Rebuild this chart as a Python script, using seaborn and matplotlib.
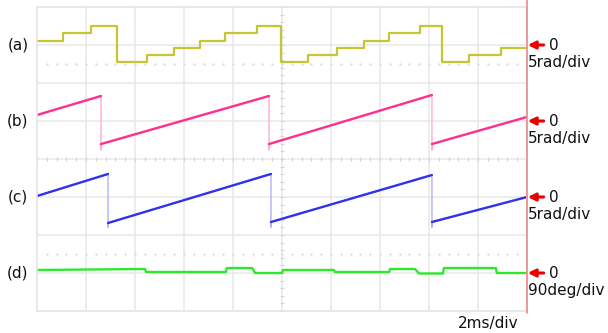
import numpy as np
import pandas as pd
import seaborn as sns
import matplotlib
matplotlib.use("Agg")
import matplotlib.pyplot as plt

# time axis: 2 ms/div, 10 divisions
# (a) staircase, rad (5 rad/div)
a_edges = [0, 1.06, 2.20, 3.27, 4.49, 5.59, 6.65, 7.67, 8.98, 9.96,
           11.06, 12.24, 13.35, 14.37, 15.63, 16.53, 17.63, 18.94, 20.0]
a_rad = [0.53, 1.58, 2.50, -2.24, -1.32, -0.39, 0.53, 1.58, 2.50,
         -2.24, -1.32, -0.39, 0.53, 1.58, 2.50, -2.24, -1.32, -0.39]

# (b) sawtooth, rad (5 rad/div)
b_t = [0, 2.61, 2.61, 9.47, 9.47, 16.12, 16.12, 20.0]
b_rad = [0.79, 3.29, -3.03, 3.29, -3.03, 3.42, -3.03, 0.53]
b_spike = -3.80

# (c) sawtooth, rad (5 rad/div)
c_t = [0, 2.90, 2.90, 9.55, 9.55, 16.12, 16.12, 20.0]
c_rad = [0.13, 3.03, -3.42, 3.03, -3.29, 2.89, -3.29, 0.0]
c_spike = -3.95

# (d) phase difference, deg (90 deg/div)
d_t = [0, 4.41, 4.45, 7.71, 7.75, 8.78, 8.90, 10.0, 10.04, 12.12, 12.16,
       14.37, 14.41, 15.43, 15.59, 16.57, 16.61, 18.73, 18.77, 20.0]
d_deg = [7.1, 9.5, 2.4, 2.4, 11.8, 11.8, 0.0, 0.0, 7.1, 7.1, 2.4,
         2.4, 9.5, 9.5, -1.2, -1.2, 11.8, 11.8, 0.0, 0.0]

labels = ["(a)", "(b)", "(c)", "(d)"]
offsets = [3, 1, -1, -3]          # zero level of each channel, in divisions
scales = ["5rad/div", "5rad/div", "5rad/div", "90deg/div"]
colors = ["#c6c634", "#ff2f8f", "#3232ee", "#2ee82e"]
pale = ["#dede90", "#ffaed0", "#b0b0f8", "#a8f4a8"]

fig = plt.figure(figsize=(6.08, 3.33), dpi=100)
ax = fig.add_axes([37 / 608, 22 / 333, 490 / 608, 304 / 333])
sns.set_style("white")
plt.rcParams["font.family"] = ["DejaVu Sans"]

ax.set_xlim(0, 20)
ax.set_ylim(-4, 4)
ax.set_xticks([])
ax.set_yticks([])
for s in ax.spines.values():
    s.set_color("#e4e4e4")
    s.set_linewidth(1.2)

# graticule
for x in np.arange(2, 20, 2):
    ax.axvline(x, color="#e8e8e8", lw=1.1, zorder=0)
for y in np.arange(-3, 4, 1):
    ax.axhline(y, color="#e8e8e8", lw=1.1, zorder=0)
ax.plot(np.full(41, 10.0), np.arange(-4, 4.01, 0.2), ls="none", marker="_",
        ms=3, mew=0.8, color="#d4d4d4", zorder=0)
ax.plot(np.arange(0, 20.01, 0.4), np.zeros(51), ls="none", marker="|",
        ms=3, mew=0.8, color="#d4d4d4", zorder=0)
for yy in (2.5, -2.5):
    ax.plot(np.arange(0.4, 20, 0.4), np.full(49, yy), ls="none", marker=".",
            ms=1.2, color="#dadada", zorder=0)

# (a) staircase
sns.lineplot(x=a_edges, y=[v / 5 + offsets[0] for v in a_rad + [a_rad[-1]]],
             drawstyle="steps-post", estimator=None, sort=False,
             color=colors[0], lw=1.6, ax=ax)


def saw(ts, vals, spike, k):
    # pale fast edges, then the ramps on top
    tt, vv = [], []
    for i in range(len(ts)):
        tt.append(ts[i])
        vv.append(vals[i])
        if i % 2 == 1 and i < len(ts) - 1:
            tt.append(ts[i])
            vv.append(spike)
    sns.lineplot(x=tt, y=[v / 5 + offsets[k] for v in vv], estimator=None,
                 sort=False, color=pale[k], lw=1.0, ax=ax)
    df = pd.DataFrame({"t": ts, "v": [v / 5 + offsets[k] for v in vals],
                       "seg": [i // 2 for i in range(len(ts))]})
    sns.lineplot(data=df, x="t", y="v", units="seg", estimator=None,
                 sort=False, color=colors[k], lw=1.7, ax=ax)


saw(b_t, b_rad, b_spike, 1)
saw(c_t, c_rad, c_spike, 2)

sns.lineplot(x=d_t, y=[v / 90 + offsets[3] for v in d_deg], estimator=None,
             sort=False, color=colors[3], lw=1.7, ax=ax)

ax.set_xlabel("")
ax.set_ylabel("")

# trigger / marker line
ax.axvline(20, ymin=-0.005, ymax=1.03, color="#f08a8a", lw=1.2,
           clip_on=False, zorder=5)

for k in range(4):
    y0 = offsets[k]
    ax.text(-0.35, y0, labels[k], ha="right", va="center", fontsize=11,
            color="#111111")
    ax.annotate("", xy=(20.03, y0), xytext=(20.68, y0),
                arrowprops=dict(arrowstyle="-|>", color="#ee0000", lw=2.2,
                                mutation_scale=11, shrinkA=0, shrinkB=0),
                annotation_clip=False)
    ax.text(20.9, y0, "0", ha="left", va="center", fontsize=11,
            color="#111111", clip_on=False)
    ax.text(20.04, y0 - 0.46, scales[k], ha="left", va="center",
            fontsize=11, color="#111111", clip_on=False)

ax.text(18.4, -4.32, "2ms/div", ha="center", va="center", fontsize=11,
        color="#111111")

fig.savefig("out.png", dpi=100)
